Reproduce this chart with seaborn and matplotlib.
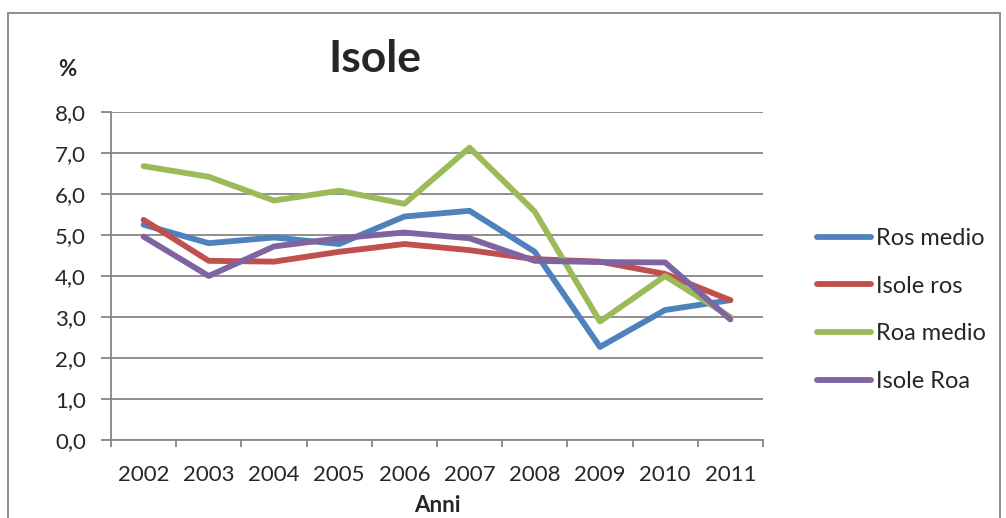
import numpy as np
import pandas as pd
import matplotlib
matplotlib.use("Agg")
import matplotlib.pyplot as plt
from matplotlib.patches import Rectangle
from matplotlib.ticker import FixedLocator, FuncFormatter
import seaborn as sns

# ============ DATI ============
anni = [2002, 2003, 2004, 2005, 2006, 2007, 2008, 2009, 2010, 2011]
ros_medio = [5.25, 4.80, 4.94, 4.78, 5.45, 5.59, 4.59, 2.27, 3.17, 3.41]
isole_ros = [5.37, 4.37, 4.35, 4.59, 4.78, 4.63, 4.41, 4.35, 4.05, 3.41]
roa_medio = [6.68, 6.42, 5.84, 6.08, 5.76, 7.13, 5.57, 2.89, 4.00, 3.00]
isole_roa = [4.96, 4.00, 4.72, 4.92, 5.06, 4.92, 4.37, 4.34, 4.33, 2.94]

serie = ["Ros medio", "Isole ros", "Roa medio", "Isole Roa"]
colori = ["#4F81BD", "#C0504D", "#9BBB59", "#8064A2"]

df = pd.DataFrame({
    "Anno": anni * 4,
    "Valore": ros_medio + isole_ros + roa_medio + isole_roa,
    "Serie": [s for s in serie for _ in anni],
})

# ============ GRAFICO ============
sns.set_style("white")
plt.rcParams["font.family"] = ["Lato", "DejaVu Sans"]
grigio = "#868686"

fig = plt.figure(figsize=(10.06, 5.18), dpi=100)
ax = fig.add_axes([0.1103, 0.1506, 0.6481, 0.6332])

sns.lineplot(data=df, x="Anno", y="Valore", hue="Serie", hue_order=serie,
             palette=colori, linewidth=4.2, ax=ax, legend=True,
             solid_capstyle="round")

ax.set_xlim(2001.5, 2011.5)
ax.set_ylim(0, 8)
ax.set_yticks(np.arange(0, 8.01, 1.0))
ax.yaxis.set_major_formatter(FuncFormatter(lambda v, p: f"{v:.1f}".replace(".", ",")))
ax.set_xticks(anni)
ax.set_xticklabels([str(a) for a in anni])
ax.xaxis.set_minor_locator(FixedLocator(np.arange(2001.5, 2012, 1.0)))

ax.grid(axis="y", color=grigio, linewidth=1.3)
ax.set_axisbelow(True)
for s in ["top", "right"]:
    ax.spines[s].set_visible(False)
for s in ["left", "bottom"]:
    ax.spines[s].set_color(grigio)
    ax.spines[s].set_linewidth(1.3)

ax.tick_params(axis="y", which="major", direction="out", length=7, width=1.3,
               color=grigio, labelsize=16, pad=11, left=True)
ax.tick_params(axis="x", which="major", length=0, labelsize=16, pad=18)
ax.tick_params(axis="x", which="minor", direction="out", length=5, width=1.3,
               color=grigio, bottom=True)

ax.set_xlabel("")
ax.set_ylabel("")

fig.text(375 / 1006, 1 - 59 / 518, "Isole", fontsize=32, fontweight="bold",
         ha="center", va="center")
fig.text(67 / 1006, 1 - 70 / 518, "%", fontsize=16, fontweight="bold",
         ha="center", va="center")
fig.text(437 / 1006, 1 - 506 / 518, "Anni", fontsize=16, fontweight="bold",
         ha="center", va="center")

ax.legend_.remove()
handles, labels = ax.get_legend_handles_labels()
leg = fig.legend(handles, labels, loc="center left",
                 bbox_to_anchor=(817 / 1006, 1 - 310 / 518), frameon=False,
                 fontsize=17, handlelength=2.3, handletextpad=0.2,
                 labelspacing=1.13, borderpad=0, borderaxespad=0)
for line in leg.get_lines():
    line.set_linewidth(4.2)

# bordo del grafico
fig.patches.append(Rectangle((8 / 1006, -0.05), 992 / 1006, 1.05 - 13 / 518,
                             transform=fig.transFigure, fill=False,
                             edgecolor=grigio, linewidth=1.3))

fig.savefig("out.png", dpi=100)
